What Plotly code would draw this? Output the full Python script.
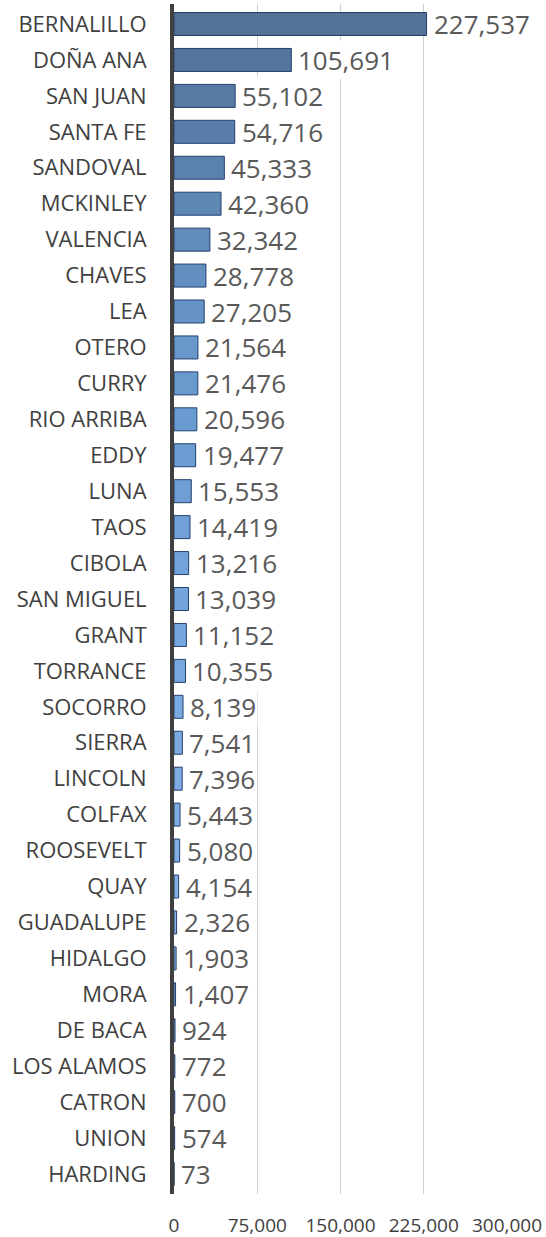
import plotly.graph_objects as go

counties = ["BERNALILLO", "DOÑA ANA", "SAN JUAN", "SANTA FE", "SANDOVAL", "MCKINLEY",
            "VALENCIA", "CHAVES", "LEA", "OTERO", "CURRY", "RIO ARRIBA", "EDDY", "LUNA",
            "TAOS", "CIBOLA", "SAN MIGUEL", "GRANT", "TORRANCE", "SOCORRO", "SIERRA",
            "LINCOLN", "COLFAX", "ROOSEVELT", "QUAY", "GUADALUPE", "HIDALGO", "MORA",
            "DE BACA", "LOS ALAMOS", "CATRON", "UNION", "HARDING"]
values = [227537, 105691, 55102, 54716, 45333, 42360, 32342, 28778, 27205, 21564,
          21476, 20596, 19477, 15553, 14419, 13216, 13039, 11152, 10355, 8139, 7541,
          7396, 5443, 5080, 4154, 2326, 1903, 1407, 924, 772, 700, 574, 73]
tick_vals = [0, 75000, 150000, 225000, 300000]
tick_text = ["0", "75,000", "150,000", "225,000", "300,000"]

# vertical gradient of bar fill colours (dark at top, lighter at bottom): style stops
stops = [(0, (0x52, 0x72, 0x98)), (9, (0x67, 0x97, 0xcb)),
         (16, (0x73, 0xa4, 0xdc)), (32, (0x95, 0xbd, 0xee))]
n = len(counties)
colors = []
for i in range(n):
    for (i0, c0), (i1, c1) in zip(stops[:-1], stops[1:]):
        if i0 <= i <= i1:
            t = (i - i0) / (i1 - i0)
            r, g, b = (round(c0[k] + (c1[k] - c0[k]) * t) for k in range(3))
            break
    colors.append(f"rgb({r},{g},{b})")

fig = go.Figure(go.Bar(
    x=values, y=counties, orientation="h",
    marker=dict(color=colors, line=dict(color="#23416e", width=1)),
    width=0.64, hoverinfo="x+y",
))

annotations = []
for c, v in zip(counties, values):
    annotations.append(dict(
        x=v, y=c, xref="x", yref="y", text=f"{v:,}", showarrow=False,
        xanchor="left", yanchor="middle", xshift=5, bgcolor="white", borderpad=1,
        font=dict(family="Open Sans", size=26, color="#595959"),
    ))

fig.update_layout(
    width=546, height=1237,
    margin=dict(l=174, r=39, t=4, b=43, autoexpand=False),
    paper_bgcolor="white", plot_bgcolor="white",
    showlegend=False,
    annotations=annotations,
    font=dict(family="Open Sans", color="#404040"),
)
fig.update_xaxes(
    range=[0, 300000], tickvals=tick_vals, ticktext=tick_text,
    showgrid=True, gridcolor="#d0d0d0", gridwidth=1, zeroline=False,
    showline=False, ticks="", ticklabelstandoff=18, automargin=False,
    tickfont=dict(family="Open Sans", size=19, color="#404040"),
)
fig.update_yaxes(
    autorange="reversed", showgrid=False, zeroline=False,
    showline=True, linecolor="#404040", linewidth=4,
    ticks="", ticklabelstandoff=19, automargin=False,
    tickfont=dict(family="Open Sans", size=22, color="#404040"),
)

fig.write_html("out.html", config={"displayModeBar": False},
               post_script="document.body.style.margin='0';")
